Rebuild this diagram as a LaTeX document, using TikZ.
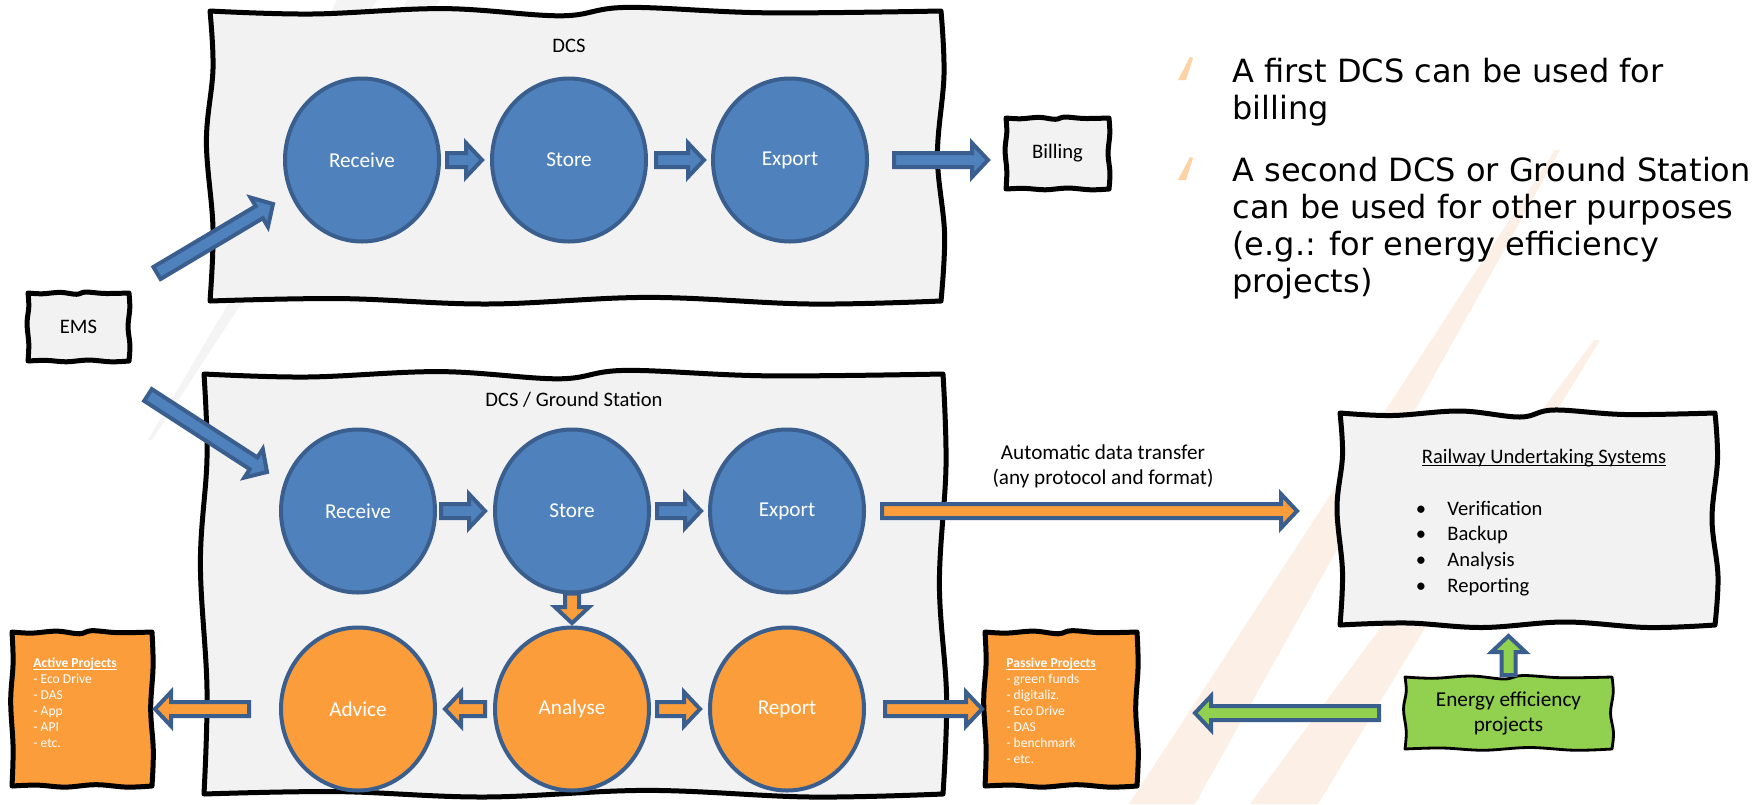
\documentclass[tikz,border=0pt]{standalone}
\usepackage{fontspec}
\setmainfont{Carlito}
\newfontfamily\verd{DejaVu Sans}
\usetikzlibrary{shapes.geometric,calc}

\definecolor{boxgray}{HTML}{F2F2F2}
\definecolor{cblue}{HTML}{4F81BD}
\definecolor{cline}{HTML}{3A5F8E}
\definecolor{corange}{HTML}{FB9D3B}
\definecolor{cgreen}{HTML}{92D050}
\definecolor{stripeor}{HTML}{FCF0E6}
\definecolor{stripegr}{HTML}{F4F4F4}

% underline drawn just below the baseline
\newcommand\ulin[1]{\leavevmode\setbox0=\hbox{#1}\rlap{\copy0}\rule[-1.4pt]{\wd0}{0.55pt}}

% hand-drawn looking rectangle between (#2,#3) and (#4,#5), style #6, wave amplitude #7
\newcommand\sketchbox[7]{%
  \pgfmathsetmacro\sbW{#4-#2}%
  \pgfmathsetmacro\sbH{#5-#3}%
  \path[#6] plot[smooth,tension=.6] coordinates {(#2,#3) ({#2+.14*\sbW},{#3+.5*#7}) ({#2+.32*\sbW},{#3-.4*#7}) ({#2+.48*\sbW},{#3+.8*#7}) ({#2+.57*\sbW},{#3-.6*#7}) ({#2+.76*\sbW},{#3+.3*#7}) (#4,#3)}
   -- plot[smooth,tension=.6] coordinates {(#4,#3) ({#4+.5*#7},{#3+.22*\sbH}) ({#4-.6*#7},{#3+.5*\sbH}) ({#4+.6*#7},{#3+.77*\sbH}) (#4,#5)}
   -- plot[smooth,tension=.6] coordinates {(#4,#5) ({#4-.18*\sbW},{#5+.5*#7}) ({#4-.4*\sbW},{#5-.6*#7}) ({#4-.62*\sbW},{#5+.5*#7}) ({#4-.82*\sbW},{#5-.4*#7}) (#2,#5)}
   -- plot[smooth,tension=.6] coordinates {(#2,#5) ({#2+.5*#7},{#5-.25*\sbH}) ({#2-.6*#7},{#5-.55*\sbH}) ({#2+.5*#7},{#5-.8*\sbH}) (#2,#3)}
   -- cycle;
}

% block arrow from #2 to #3 with style #1
\def\arsh{3.5pt}
\def\arhw{8.5pt}
\def\arhl{8pt}
\newcommand\blockarrow[3]{%
  \path[#1] let \p1=(#2), \p2=(#3), \n1={atan2(\y2-\y1,\x2-\x1)} in
    ($(\p1)+({\n1+90}:\arsh)$)
    -- ($(\p2)+({\n1+180}:\arhl)+({\n1+90}:\arsh)$)
    -- ($(\p2)+({\n1+180}:\arhl)+({\n1+90}:\arhw)$)
    -- (\p2)
    -- ($(\p2)+({\n1+180}:\arhl)+({\n1-90}:\arhw)$)
    -- ($(\p2)+({\n1+180}:\arhl)+({\n1-90}:\arsh)$)
    -- ($(\p1)+({\n1-90}:\arsh)$) -- cycle;
}

\begin{document}
\begin{tikzpicture}[x=0.5pt,y=-0.5pt,
  boxline/.style={draw=black, line width=2.5pt, fill=boxgray, line join=round},
  anchorbox/.style={inner sep=0, outer sep=0, draw=none},
  circ/.style={ellipse, draw=cline, line width=2pt, minimum width=77pt, minimum height=81.5pt,
    inner sep=0, text=white, font=\fontsize{10.6}{12}\selectfont},
  bluecirc/.style={circ, fill=cblue},
  orcirc/.style={circ, fill=corange},
  barrow/.style={fill=cblue, draw=cline, line width=2pt},
  oarrow/.style={fill=corange, draw=cline, line width=2pt},
  garrow/.style={fill=cgreen, draw=cline, line width=2pt},
  lbl/.style={inner sep=0, font=\fontsize{10.3}{12.5}\selectfont},
  small/.style={inner sep=0, anchor=base west, text=white, font=\fontsize{6.8}{8}\selectfont},
  rtext/.style={inner sep=0, anchor=base west, font=\verd\fontsize{16}{19}\selectfont}]

\useasboundingbox (0,0) rectangle (1761,804);
\fill[white] (0,0) rectangle (1761,804);

% faint background stripes
\fill[stripegr] (407,0) -- (440,0) -- (152,440) -- (148,440) -- cycle;
\fill[stripegr] (337,0) -- (377,0) -- (262,170) -- (258,170) -- cycle;
\fill[stripeor] (1129,804) -- (1195,804) -- (1560,150) -- (1555,150) -- cycle;
\fill[stripeor] (1250,804) -- (1318,804) -- (1600,340) -- (1594,340) -- cycle;

% frames
\sketchbox{dcsA}{210}{11}{941}{301}{boxline}{6}
\sketchbox{dcsB}{204}{374}{943}{794}{boxline}{6}
\sketchbox{emsbox}{28}{293}{129}{361}{boxline}{1.6}
\sketchbox{billbox}{1006}{118}{1109}{189}{boxline}{1.6}
\sketchbox{actbox}{12}{632}{152}{786}{boxline, fill=corange}{2.2}
\sketchbox{pasbox}{985}{632}{1137}{786}{boxline, fill=corange}{2.2}
\sketchbox{rubox}{1340}{413}{1715}{625}{boxline}{5}
\sketchbox{grbox}{1405}{677}{1612}{749}{boxline, fill=cgreen, line width=1.4pt}{2.5}

% box nodes
\node[anchorbox, minimum width=50.5pt, minimum height=34pt, font=\fontsize{10.3}{12}\selectfont] (ems) at (78.5,327) {EMS};
\node[anchorbox, minimum width=51.5pt, minimum height=35.5pt, font=\fontsize{10.3}{12}\selectfont] (billing) at (1057.5,153.5) {Billing};
\node[anchorbox, minimum width=70pt, minimum height=77pt] (active) at (82,709) {};
\node[anchorbox, minimum width=76pt, minimum height=77pt] (passive) at (1061,709) {};
\node[anchorbox, minimum width=187.5pt, minimum height=106pt] (ru) at (1527.5,519) {};
\node[anchorbox, minimum width=103.5pt, minimum height=36pt, align=center,
  font=\fontsize{10.6}{12.5}\selectfont] (green) at (1508.5,713) {Energy efficiency\\projects};

% frame titles
\node[lbl] (dcstitle) at (569,46) {DCS};
\node[lbl] (gstitle) at (574,400) {DCS / Ground Station};

% process steps
\node[bluecirc] (rcvA) at (362,160) {Receive};
\node[bluecirc] (stoA) at (569,160) {Store};
\node[bluecirc] (expA) at (790,160) {Export};
\node[bluecirc] (rcvB) at (358,511) {Receive};
\node[bluecirc] (stoB) at (572,511) {Store};
\node[bluecirc] (expB) at (787,511) {Export};
\node[orcirc] (advB) at (358,709) {Advice};
\node[orcirc] (anaB) at (572,709) {Analyse};
\node[orcirc] (repB) at (787,709) {Report};

% arrows of the first DCS
\blockarrow{barrow}{$(ems.north east)+(14pt,10pt)$}{$(rcvA.center)+(-44.5pt,-22pt)$}
\blockarrow{barrow}{$(rcvA.east)+(3pt,0)$}{$(stoA.west)+(-4pt,0)$}
\blockarrow{barrow}{$(stoA.east)+(4pt,0)$}{$(expA.west)+(-3.5pt,0)$}
\blockarrow{barrow}{$(expA.east)+(12.5pt,0)$}{$(billing.west |- expA.east)+(-9pt,0)$}

% arrows of the second DCS / ground station
\blockarrow{barrow}{$(ems.south east)+(9.5pt,-17pt)$}{$(rcvB.center)+(-45.5pt,19.5pt)$}
\blockarrow{barrow}{$(rcvB.east)+(2pt,0)$}{$(stoB.west)+(-4pt,0)$}
\blockarrow{barrow}{$(stoB.east)+(3pt,0)$}{$(expB.west)+(-3.5pt,0)$}
\blockarrow{oarrow}{$(expB.east)+(8pt,0)$}{$(ru.west |- expB.east)+(-21.5pt,0)$}
\blockarrow{oarrow}{$(stoB.south)+(0,0.5pt)$}{$(anaB.north)+(0,1.2pt)$}
\blockarrow{oarrow}{$(anaB.west)+(-4pt,0)$}{$(advB.east)+(4pt,0)$}
\blockarrow{oarrow}{$(anaB.east)+(3pt,0)$}{$(repB.west)+(-4pt,0)$}
\blockarrow{oarrow}{$(advB.west)+(-15pt,0)$}{$(active.east |- advB.west)+(1.5pt,0)$}
\blockarrow{oarrow}{$(repB.east)+(9.5pt,0)$}{$(passive.west |- repB.east)+(-1.5pt,0)$}
\blockarrow{garrow}{$(green.west)+(-13pt,0)$}{$(passive.east |- green.west)+(29pt,0)$}
\blockarrow{garrow}{$(green.north)+(0,1pt)$}{$(ru.south -| green.north)+(0,-5.5pt)$}

% transfer label
\node[inner sep=0, align=center, font=\fontsize{10.6}{12.5}\selectfont] (autolbl) at (1103,466)
  {Automatic data transfer\\(any protocol and format)};

% project lists
\node[small] (acttitle) at (33,667) {\bfseries\ulin{Active Projects}};
\foreach \t [count=\i] in {- Eco Drive, - DAS, - App, - API, - etc.}
  \node[small] (act\i) at (33,{667+16*\i}) {\t};
\node[small] (pastitle) at (1006,667) {\bfseries\ulin{Passive Projects}};
\foreach \t [count=\i] in {- green funds, - digitaliz., - Eco Drive, - DAS, - benchmark, - etc.}
  \node[small] (pas\i) at (1006,{667+16*\i}) {\t};

% railway undertaking systems
\node[inner sep=0, anchor=base, font=\fontsize{10.3}{12}\selectfont] (rutitle) at (1544,463)
  {\ulin{Railway Undertaking Systems}};
\foreach \t [count=\i] in {Verification, Backup, Analysis, Reporting} {
  \node[inner sep=0, anchor=base, font=\fontsize{10.3}{12}\selectfont] (rub\i) at (1421,{515+25.7*(\i-1)}) {\textbullet};
  \node[inner sep=0, anchor=base west, font=\fontsize{10.3}{12}\selectfont] (rui\i) at (1447,{515+25.7*(\i-1)}) {\t};
}

% bullet marks of the notes
\fill[orange!35] (1190,57) -- (1193,58) -- (1186,80) -- (1178,80) -- cycle;
\fill[orange!35] (1190,157) -- (1193,158) -- (1186,180) -- (1178,180) -- cycle;

% notes
\node[rtext] (n1) at (1232,82) {A first DCS can be used for};
\node[rtext] (n2) at (1232,119) {billing};
\node[rtext] (n3) at (1232,181) {A second DCS or Ground Station};
\node[rtext] (n4) at (1232,218) {can be used for other purposes};
\node[rtext] (n5) at (1232,255) {(e.g.: for energy efficiency};
\node[rtext] (n6) at (1232,292) {projects)};

\end{tikzpicture}
\end{document}
